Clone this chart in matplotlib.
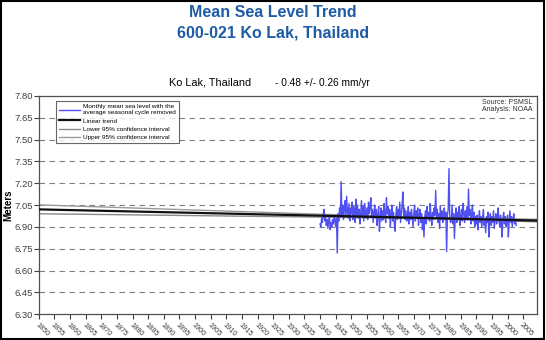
import numpy as np
import matplotlib
matplotlib.use("Agg")
import matplotlib.pyplot as plt
from matplotlib.patches import Rectangle

plt.rcParams["font.family"] = ["Liberation Sans", "DejaVu Sans"]

# =====================================
# Data (quarterly values, meters)
# =====================================

start_year = 1940.0

msl_1940s = [6.92, 6.90, 6.96, 6.93, 6.98, 7.02, 6.94, 6.97, 6.91, 6.95,
             6.89, 6.94, 6.97, 6.88, 6.93, 6.90, 6.95, 6.92, 6.98, 6.94,
             6.90, 6.96, 6.72, 6.99, 6.94, 7.03, 6.97, 7.21, 6.98, 7.05,
             6.95, 7.02, 7.08, 6.97, 7.11, 7.00, 6.96, 7.06, 6.94, 7.03]
msl_1950s = [6.99, 7.07, 6.95, 7.04, 7.01, 6.93, 7.09, 6.98, 7.05, 6.96,
             7.02, 6.92, 6.99, 7.08, 6.97, 7.04, 6.94, 7.06, 7.00, 6.96,
             7.03, 6.95, 7.07, 6.99, 7.04, 7.10, 6.97, 7.02, 6.93, 7.00,
             7.05, 6.96, 7.02, 6.91, 6.98, 7.04, 6.87, 6.97, 7.03, 6.94]
msl_1960s = [7.01, 6.95, 7.06, 6.98, 6.93, 7.10, 6.99, 7.04, 6.96, 7.02,
             6.90, 6.99, 7.05, 6.94, 7.00, 6.92, 6.87, 6.98, 7.04, 6.95,
             7.02, 6.96, 7.07, 6.93, 6.99, 7.05, 7.14, 6.97, 7.03, 6.95,
             7.01, 6.94, 6.98, 7.04, 6.92, 7.00, 6.95, 7.02, 6.97, 6.90]
msl_1970s = [6.99, 7.05, 6.94, 7.01, 6.96, 7.03, 6.91, 6.98, 7.02, 6.93,
             6.99, 6.88, 6.95, 6.83, 6.97, 7.01, 6.92, 7.04, 6.96, 7.00,
             6.94, 7.06, 6.97, 6.91, 7.00, 6.95, 7.03, 6.98, 7.15, 6.96,
             7.02, 6.93, 6.99, 6.89, 7.04, 6.95, 7.01, 6.93, 6.97, 7.03]
msl_1980s = [6.95, 7.00, 6.73, 6.98, 7.02, 7.30, 6.97, 6.93, 6.94, 7.05,
             6.92, 6.99, 6.82, 6.96, 7.03, 6.93, 7.00, 6.95, 7.04, 6.91,
             6.97, 7.02, 6.94, 7.06, 6.99, 6.93, 7.01, 6.96, 7.04, 6.95,
             7.16, 6.98, 7.02, 6.92, 6.99, 7.05, 6.94, 7.00, 6.90, 6.97]
msl_1990s = [6.92, 6.98, 6.88, 6.95, 7.01, 6.93, 6.97, 6.90, 6.96, 7.02,
             6.91, 6.95, 6.86, 6.97, 6.93, 7.00, 6.83, 6.95, 6.99, 6.91,
             6.97, 6.93, 7.01, 6.89, 6.95, 6.99, 6.92, 6.97, 7.03, 6.94,
             6.90, 6.98, 6.93, 6.83, 6.96, 7.00, 6.92, 6.97, 6.90, 6.95]
msl_2000s = [6.98, 6.83, 6.94, 7.01, 6.93, 6.97, 6.90, 6.96, 6.99, 6.92,
             6.95, 6.91]

# trend and 95% interval, read at three years
trend_years = [1850, 1971, 2010]
trend_vals = [7.020, 6.962, 6.943]
upper_vals = [7.051, 6.965, 6.952]
lower_vals = [6.990, 6.959, 6.934]

msl = np.array(msl_1940s + msl_1950s + msl_1960s + msl_1970s
               + msl_1980s + msl_1990s + msl_2000s)
years = start_year + np.arange(len(msl)) * 0.25

y_ticks = [6.30, 6.45, 6.60, 6.75, 6.90, 7.05, 7.20, 7.35, 7.50, 7.65, 7.80]
x_ticks = list(range(1850, 2010, 5))

# =====================================
# Plot
# =====================================

fig = plt.figure(figsize=(5.46, 3.40), dpi=100)
ax = fig.add_axes([0.071, 0.076, 0.913, 0.642])

for v in y_ticks[1:-1]:
    ax.axhline(v, color="#808080", linestyle=(0, (5, 4)), linewidth=0.8, zorder=0)

ax.plot(years, msl, color="#5050f0", linewidth=1.0,
        label="Monthly mean sea level with the\naverage seasonal cycle removed", zorder=2)
ax.plot(trend_years, trend_vals, color="#101010", linewidth=1.6,
        label="Linear trend", zorder=3)
ax.plot(trend_years, lower_vals, color="#8a8a8a", linewidth=1.0,
        label="Lower 95% confidence interval", zorder=1)
ax.plot(trend_years, upper_vals, color="#9a9a9a", linewidth=1.0,
        label="Upper 95% confidence interval", zorder=1)

ax.set_xlim(1850, 2009.5)
ax.set_ylim(6.30, 7.80)
ax.set_yticks(y_ticks)
ax.set_yticklabels([f"{v:.2f}" for v in y_ticks], fontsize=6.8, color="#404040")
ax.set_xticks(x_ticks)
ax.set_xticklabels([str(x) for x in x_ticks], fontsize=5.2, color="#404040",
                   rotation=-45, ha="left", va="top", rotation_mode="anchor")
ax.tick_params(axis="y", direction="out", length=3.5, width=0.8, color="#404040", pad=0.5)
ax.tick_params(axis="x", direction="out", length=3.5, width=0.8, color="#404040", pad=2)

for s in ax.spines.values():
    s.set_color("#505050")
    s.set_linewidth(0.9)

ax.set_ylabel("Meters", fontsize=7, fontweight="bold", labelpad=1)

leg = ax.legend(loc="upper left", bbox_to_anchor=(0.028, 0.99), fontsize=4.6,
                frameon=True, fancybox=False, edgecolor="#404040",
                handlelength=3.2, handletextpad=0.5, borderpad=0.5,
                labelspacing=0.45)
leg.get_frame().set_linewidth(0.8)

ax.text(0.99, 0.985, "Source: PSMSL\nAnalysis: NOAA", transform=ax.transAxes,
        ha="right", va="top", fontsize=5, color="#303030", linespacing=1.0)

# =====================================
# Titles
# =====================================

fig.text(0.5, 0.962, "Mean Sea Level Trend", ha="center", va="center",
         fontsize=11.5, fontweight="bold", color="#1f5ca6")
fig.text(0.5, 0.903, "600-021 Ko Lak, Thailand", ha="center", va="center",
         fontsize=11.5, fontweight="bold", color="#1f5ca6")
fig.text(0.384, 0.756, "Ko Lak, Thailand", ha="center", va="center",
         fontsize=7.8, color="black")
fig.text(0.591, 0.756, "- 0.48 +/- 0.26 mm/yr", ha="center", va="center",
         fontsize=7.3, color="black")

fig.add_artist(Rectangle((0.002, 0.003), 0.995, 0.994, transform=fig.transFigure,
                         fill=False, edgecolor="black", linewidth=1.5))

fig.savefig("out.png", dpi=100)
